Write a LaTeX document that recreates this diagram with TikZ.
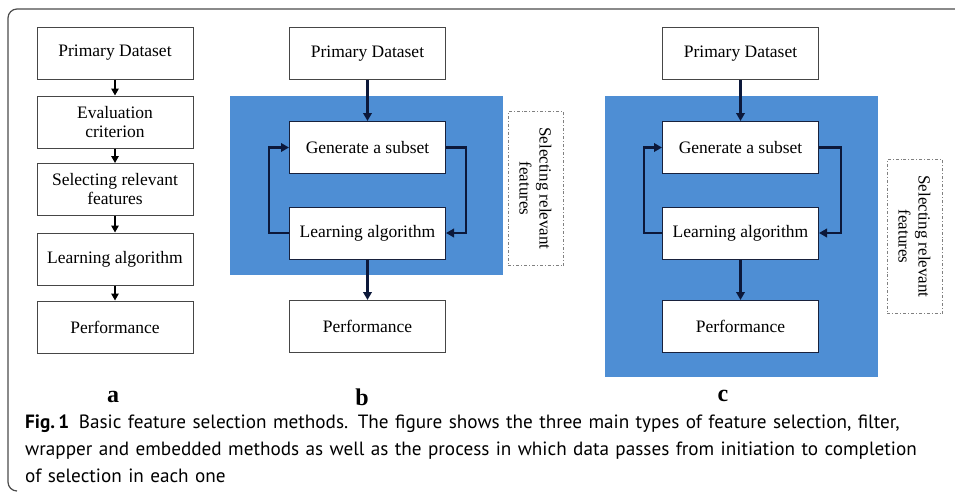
\documentclass[tikz,border=0pt]{standalone}
\usepackage{fontspec}
\setmainfont{Liberation Serif}
\newfontfamily\capfont{PT Sans}
\usetikzlibrary{arrows.meta, positioning}
\definecolor{panelblue}{RGB}{78,142,212}
\definecolor{navy}{RGB}{12,24,58}
\definecolor{boxgray}{RGB}{70,70,70}
\tikzset{
  box/.style={draw=boxgray, line width=1pt, fill=white, minimum width=156pt,
    minimum height=52pt, inner sep=2pt, align=center,
    font=\fontsize{17.5}{19}\selectfont},
  darkbox/.style={box, draw=navy!80!boxgray},
  step arrow/.style={-{Triangle[length=7pt,width=7.5pt]}, line width=1.4pt, black},
  flow/.style={-{Triangle[length=8pt,width=8.5pt]}, line width=2.8pt, navy},
  selbox/.style={draw=gray, line width=0.9pt, dash dot, minimum width=154pt,
    minimum height=55pt, inner sep=0pt, align=center, rotate=-90,
    font=\fontsize{17}{20}\selectfont},
  panel/.style={font=\fontsize{24}{24}\selectfont\bfseries}
}
\begin{document}
\begin{tikzpicture}[x=1pt,y=-1pt]
\useasboundingbox (0,0) rectangle (955,496);
% frame
\draw[gray!60!black, line width=1.2pt, rounded corners=9pt] (955,9) -- (8,9) -- (8,491) -- (17,491);

% panel a
\node[box] (pa) at (115,53) {Primary Dataset};
\node[box] (ea) at (115,122) {Evaluation\\criterion};
\node[box] (sa) at (115,189.5) {Selecting relevant\\features};
\node[box] (la) at (115,259) {Learning algorithm};
\node[box] (fa) at (115,327) {Performance};
\draw[step arrow] (pa) -- (ea);
\draw[step arrow] (ea) -- (sa);
\draw[step arrow] (sa) -- (la);
\draw[step arrow] (la) -- (fa);
\node[panel] at (113,397) {a};

% panel b
\fill[panelblue] (230,96) rectangle (503,275);
\node[box] (pb) at (367.5,53.5) {Primary Dataset};
\node[darkbox] (gb) at (367.5,147.5) {Generate a subset};
\node[darkbox] (lb) at (367.5,233) {Learning algorithm};
\node[box] (fb) at (367.5,326.5) {Performance};
\draw[flow] (pb) -- (gb);
\draw[flow] (lb) -- (fb);
\draw[flow] (lb.west) -- ++(-20,0) |- (gb.west);
\draw[flow] (gb.east) -- ++(20,0) |- (lb.east);
\node[selbox] (sb) at (535.5,188.5) {Selecting relevant\\features};
\node[panel] at (362,397) {b};

% panel c
\fill[panelblue] (605,96) rectangle (878,377);
\node[box] (pc) at (740.5,53.5) {Primary Dataset};
\node[darkbox] (gc) at (740.5,147.5) {Generate a subset};
\node[darkbox] (lc) at (740.5,233) {Learning algorithm};
\node[darkbox] (fc) at (740.5,326.5) {Performance};
\draw[flow] (pc) -- (gc);
\draw[flow] (lc) -- (fc);
\draw[flow] (lc.west) -- ++(-18,0) |- (gc.west);
\draw[flow] (gc.east) -- ++(22,0) |- (lc.east);
\node[selbox] (sc) at (914.5,236.5) {Selecting relevant\\features};
\node[panel] at (723,396) {c};

% caption
\node[anchor=north west, align=left, inner sep=0pt, text width=928pt,
  font=\capfont\fontsize{19.2}{27}\selectfont] (cap) at (25,415)
  {\textbf{Fig.\,1}\enspace Basic feature selection methods. The figure shows the three main types of feature selection, filter,\\
   wrapper and embedded methods as well as the process in which data passes from initiation to completion\\
   of selection in each one};
\end{tikzpicture}
\end{document}
